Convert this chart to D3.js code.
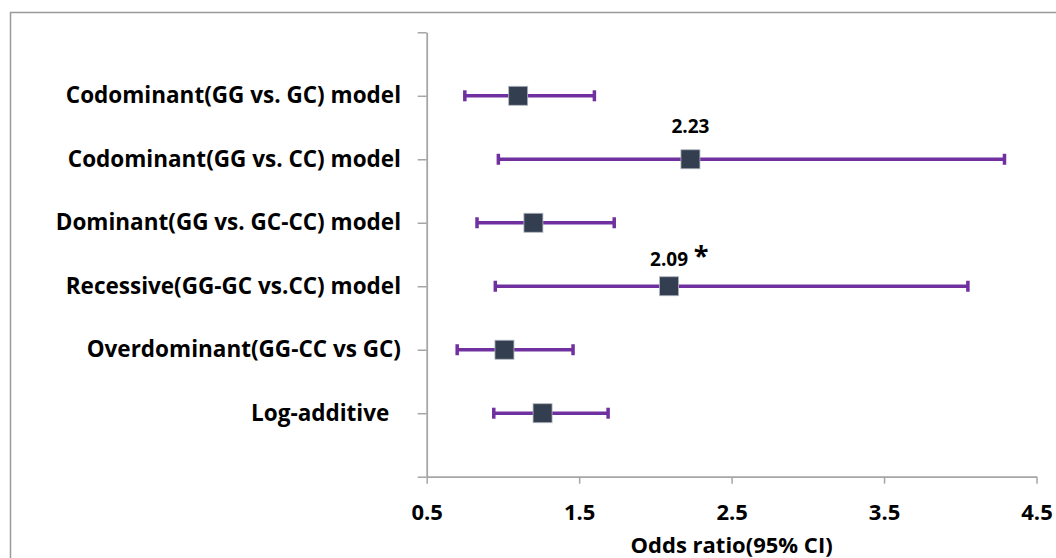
<!DOCTYPE html>
<html>
<head>
<meta charset="utf-8">
<script src="https://cdn.jsdelivr.net/npm/d3@7/dist/d3.min.js"></script>
<style>
  html, body { margin: 0; padding: 0; background: #fff; }
  svg text { font-family: "Open Sans", "Lato", sans-serif; font-weight: bold; fill: #000; }
</style>
</head>
<body>
<svg id="chart" width="1056" height="558"></svg>
<script>
// Genetic model labels (top to bottom)
const models = [
  "Codominant(GG vs. GC) model",
  "Codominant(GG vs. CC) model",
  "Dominant(GG vs. GC-CC) model",
  "Recessive(GG-GC vs.CC) model",
  "Overdominant(GG-CC vs GC)",
  "Log-additive\u00a0\u00a0"
];
// Odds ratios with 95% confidence limits
const oddsRatio = [1.10, 2.23, 1.20, 2.09, 1.01, 1.26];
const ciLower   = [0.75, 0.97, 0.83, 0.95, 0.70, 0.94];
const ciUpper   = [1.60, 4.29, 1.73, 4.05, 1.46, 1.69];
// Values printed above their markers, and significance flags
const showValue   = [false, true, false, true, false, false];
const significant = [false, false, false, true, false, false];
// Axis ticks
const xTicks = [0.5, 1.5, 2.5, 3.5, 4.5];
const xTitle = "Odds ratio(95% CI)";

const svg = d3.select("#chart");

// outer frame
svg.append("rect")
  .attr("x", 10.5).attr("y", 12.5)
  .attr("width", 1100).attr("height", 600)
  .attr("fill", "none").attr("stroke", "#9a9a9a").attr("stroke-width", 1.5);

const x = d3.scaleLinear().domain([0.5, 4.5]).range([426.7, 1036.5]);
const y = d3.scaleLinear().domain([0, models.length + 1]).range([32.3, 476.7]);
const rowY = i => y(i + 1);

const axisColor = "#a6a6a6";

// y axis (ticks only, labels drawn separately)
const yAxis = svg.append("g")
  .attr("transform", `translate(${x(0.5)},0)`)
  .call(d3.axisLeft(y).tickValues(d3.range(0, models.length + 2)).tickSize(9).tickSizeOuter(0).tickFormat(""));
yAxis.select(".domain").attr("stroke", axisColor).attr("stroke-width", 1.8);
yAxis.selectAll(".tick line").attr("stroke", axisColor).attr("stroke-width", 1.5);

// x axis
const xAxis = svg.append("g")
  .attr("transform", `translate(0,${y(models.length + 1)})`)
  .call(d3.axisBottom(x).tickValues(xTicks).tickSize(7).tickSizeOuter(0).tickPadding(0).tickFormat(d3.format(".1f")));
xAxis.select(".domain").attr("stroke", axisColor).attr("stroke-width", 1.8);
xAxis.selectAll(".tick line").attr("stroke", axisColor).attr("stroke-width", 1.5);
xAxis.selectAll(".tick text")
  .attr("y", 43).attr("dy", null)
  .style("font-size", "22px").style("font-family", "'Open Sans', sans-serif").style("font-weight", "bold")
  .attr("fill", "#000");

// axis title
svg.append("text")
  .attr("x", (x(0.5) + x(4.5)) / 2).attr("y", 553)
  .attr("text-anchor", "middle")
  .style("font-size", "22px")
  .text(xTitle);

// row labels
svg.append("g").selectAll("text")
  .data(models)
  .join("text")
  .attr("x", 401).attr("y", (d, i) => rowY(i) + 7.5)
  .attr("text-anchor", "end")
  .style("font-size", "22.5px")
  .style("white-space", "pre")
  .text(d => d);

const barColor = "#7030a0";
const rows = svg.append("g").selectAll("g")
  .data(models.map((m, i) => ({ i, or: oddsRatio[i], lo: ciLower[i], hi: ciUpper[i] })))
  .join("g");

// confidence interval line
rows.append("line")
  .attr("x1", d => x(d.lo)).attr("x2", d => x(d.hi))
  .attr("y1", d => rowY(d.i)).attr("y2", d => rowY(d.i))
  .attr("stroke", barColor).attr("stroke-width", 3.5);
// caps
rows.append("line")
  .attr("x1", d => x(d.lo)).attr("x2", d => x(d.lo))
  .attr("y1", d => rowY(d.i) - 5.5).attr("y2", d => rowY(d.i) + 5.5)
  .attr("stroke", barColor).attr("stroke-width", 3.5);
rows.append("line")
  .attr("x1", d => x(d.hi)).attr("x2", d => x(d.hi))
  .attr("y1", d => rowY(d.i) - 5.5).attr("y2", d => rowY(d.i) + 5.5)
  .attr("stroke", barColor).attr("stroke-width", 3.5);

// point estimate markers
const sq = 19;
rows.append("rect")
  .attr("x", d => x(d.or) - sq / 2).attr("y", d => rowY(d.i) - sq / 2)
  .attr("width", sq).attr("height", sq)
  .attr("fill", "#333f50").attr("stroke", "#b0b6bf").attr("stroke-width", 0.8);

// value labels
rows.filter(d => showValue[d.i]).append("text")
  .attr("x", d => x(d.or)).attr("y", d => rowY(d.i) - (significant[d.i] ? 20 : 26))
  .attr("text-anchor", "middle")
  .style("font-size", "19px")
  .text(d => d.or.toFixed(2));

// significance asterisk
rows.filter(d => significant[d.i]).append("text")
  .attr("x", d => x(d.or) + 32).attr("y", d => rowY(d.i) - 21)
  .attr("text-anchor", "middle")
  .style("font-size", "27px")
  .text("*");
</script>
</body>
</html>
